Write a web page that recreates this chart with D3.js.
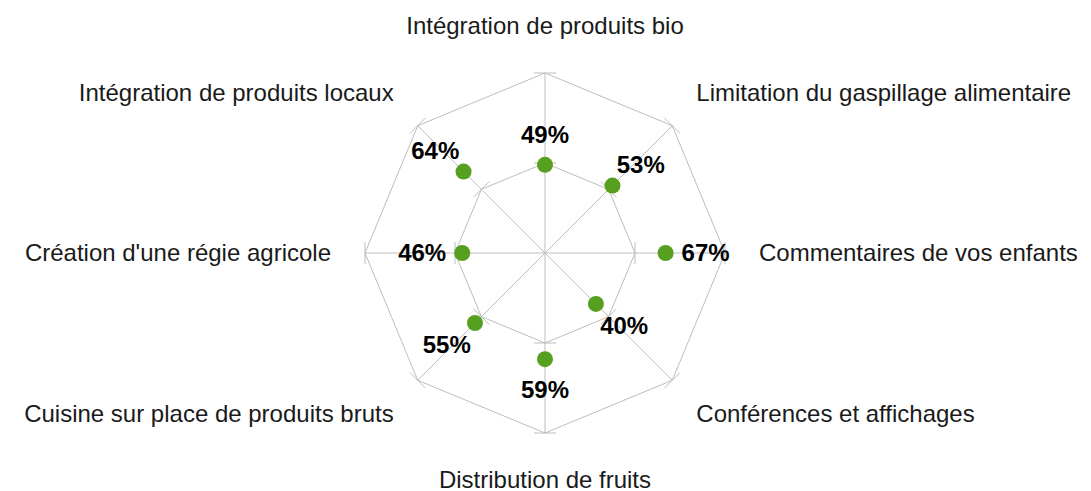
<!DOCTYPE html>
<html>
<head>
<meta charset="utf-8">
<script src="https://cdn.jsdelivr.net/npm/d3@7"></script>
<style>
  html, body { margin: 0; padding: 0; background: #fff; }
  svg { display: block; font-family: Arial, "Liberation Sans", sans-serif; }
</style>
</head>
<body>
<div id="chart"></div>
<script>
// axes, clockwise from the top
const categories = [
    "Intégration de produits bio",
    "Limitation du gaspillage alimentaire",
    "Commentaires de vos enfants",
    "Conférences et affichages",
    "Distribution de fruits",
    "Cuisine sur place de produits bruts",
    "Création d'une régie agricole",
    "Intégration de produits locaux"
];
const values = [49, 53, 67, 40, 59, 55, 46, 64];
const ringTicks = [50, 100];

const width = 1091, height = 491;
const cx = 545, cy = 253;
const outerR = 180;

const svg = d3.select("#chart").append("svg")
    .attr("width", width)
    .attr("height", height);

const r = d3.scaleLinear().domain([0, 100]).range([0, outerR]);
const angle = d3.scaleLinear().domain([0, categories.length]).range([0, 2 * Math.PI]);

// polar -> screen, angle measured clockwise from the top
function pt(i, v) {
    const a = angle(i);
    return [cx + Math.sin(a) * r(v), cy - Math.cos(a) * r(v)];
}

const grid = svg.append("g")
    .attr("stroke", "#bdbdbd")
    .attr("stroke-width", 1)
    .attr("fill", "none");

// rings
ringTicks.forEach(t => {
    grid.append("path")
        .attr("d", d3.line()(categories.map((c, i) => pt(i, t))) + "Z");
});

// spokes
categories.forEach((c, i) => {
    const p = pt(i, 100);
    grid.append("line")
        .attr("x1", cx).attr("y1", cy)
        .attr("x2", p[0]).attr("y2", p[1]);
});

// small ticks across each spoke at every ring
const tickHalf = 11;
categories.forEach((c, i) => {
    const a = angle(i);
    const tx = Math.cos(a), ty = Math.sin(a); // perpendicular to the spoke
    ringTicks.forEach(t => {
        const p = pt(i, t);
        grid.append("line")
            .attr("x1", p[0] - tx * tickHalf).attr("y1", p[1] - ty * tickHalf)
            .attr("x2", p[0] + tx * tickHalf).attr("y2", p[1] + ty * tickHalf);
    });
});

// category labels
const labRx = 214, labRy = 227;
svg.append("g").selectAll("text")
    .data(categories)
    .enter().append("text")
    .attr("x", (d, i) => cx + Math.sin(angle(i)) * labRx)
    .attr("y", (d, i) => cy - Math.cos(angle(i)) * labRy)
    .attr("dy", "0.35em")
    .attr("text-anchor", (d, i) => {
        const s = Math.sin(angle(i));
        if (s > 0.01) return "start";
        if (s < -0.01) return "end";
        return "middle";
    })
    .style("font-size", "24px")
    .attr("fill", "#1a1a1a")
    .text(d => d);

// points
svg.append("g").selectAll("circle")
    .data(values)
    .enter().append("circle")
    .attr("cx", (d, i) => pt(i, d)[0])
    .attr("cy", (d, i) => pt(i, d)[1])
    .attr("r", 8)
    .attr("fill", "#57a01f");

// value labels, pushed outward from the point
svg.append("g").selectAll("text")
    .data(values)
    .enter().append("text")
    .attr("x", (d, i) => pt(i, d)[0] + Math.sin(angle(i)) * 40)
    .attr("y", (d, i) => pt(i, d)[1] - Math.cos(angle(i)) * 30)
    .attr("dy", "0.35em")
    .attr("text-anchor", "middle")
    .style("font-size", "24px")
    .style("font-weight", "bold")
    .attr("fill", "#000")
    .text(d => d + "%");
</script>
</body>
</html>
